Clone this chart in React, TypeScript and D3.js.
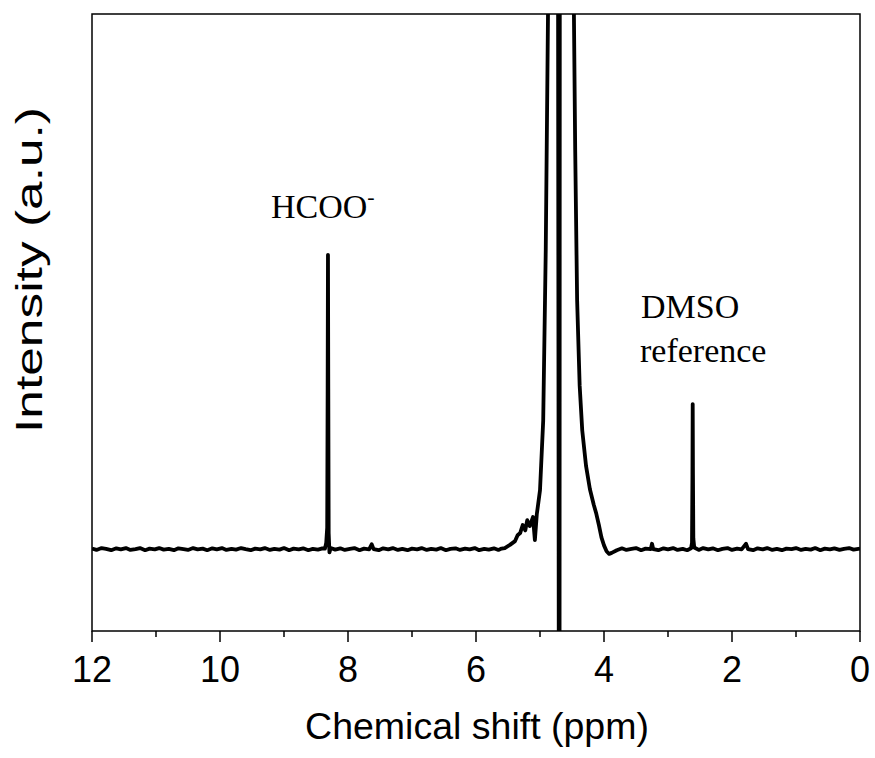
import * as d3 from 'd3'
import { useEffect, useRef } from 'react';

// tick values on the shift axis (ppm)
const majorTicks = [12, 10, 8, 6, 4, 2, 0];
const minorTicks = [11, 9, 7, 5, 3, 1];

// 1H NMR spectrum: [ppm, intensity]
const baselineLeft = [
  [12.0, 0.1], [11.93, -0.15], [11.85, 0.2], [11.78, 0.05], [11.7, -0.2], [11.62, 0.15],
  [11.55, -0.05], [11.47, 0.2], [11.4, -0.15], [11.32, 0.0], [11.25, 0.2], [11.17, -0.2],
  [11.1, 0.1], [11.02, -0.05], [10.95, 0.2], [10.88, -0.1], [10.8, 0.05], [10.72, -0.2],
  [10.65, 0.15], [10.57, 0.0], [10.5, -0.15], [10.42, 0.2], [10.35, -0.05], [10.27, 0.1],
  [10.2, -0.2], [10.12, 0.15], [10.05, -0.05], [9.97, 0.2], [9.9, -0.15], [9.82, 0.05],
  [9.75, -0.1], [9.67, 0.2], [9.6, 0.0], [9.52, -0.2], [9.45, 0.1], [9.37, -0.05],
  [9.3, 0.2], [9.22, -0.15], [9.15, 0.05], [9.07, -0.1], [9.0, 0.2], [8.92, -0.2],
  [8.85, 0.1], [8.77, -0.05], [8.7, 0.15], [8.62, -0.2], [8.55, 0.05], [8.47, -0.1],
  [8.4, 0.15], [8.36, 0.1],
];
const formatePeak = [
  [8.34, 1.2], [8.325, 4], [8.318, 30], [8.313, 55], [8.308, 30], [8.302, 3],
  [8.29, -0.6], [8.27, 0.2],
];
const baselineMid = [
  [8.2, -0.1], [8.12, 0.15], [8.05, -0.15], [7.97, 0.05], [7.9, 0.2], [7.82, -0.2],
  [7.75, 0.1], [7.67, -0.05], [7.63, 0.9], [7.6, 0.0], [7.52, -0.2], [7.45, 0.15],
  [7.37, -0.05], [7.3, 0.2], [7.22, -0.15], [7.15, 0.05], [7.07, -0.2], [7.0, 0.1],
  [6.92, -0.05], [6.85, 0.2], [6.77, -0.15], [6.7, 0.05], [6.62, -0.1], [6.55, 0.2],
  [6.47, -0.2], [6.4, 0.05], [6.32, 0.15], [6.25, -0.15], [6.17, 0.1], [6.1, -0.05],
  [6.02, 0.2], [5.95, -0.2], [5.87, 0.05], [5.8, -0.1], [5.72, 0.15], [5.65, -0.15],
  [5.6, 0.1],
];
const waterPeak = [
  [5.55, 0.2], [5.47, 0.8], [5.39, 1.5], [5.35, 2.6], [5.31, 3.0], [5.27, 4.5],
  [5.23, 3.5], [5.2, 5.4], [5.16, 4.3], [5.11, 6.0], [5.08, 1.7], [5.05, 6.5],
  [5.0, 11], [4.95, 24], [4.91, 56], [4.875, 100], [4.86, 130],
  [4.72, 130], [4.705, -40], [4.695, -40], [4.69, 130],
  [4.48, 130], [4.47, 100], [4.45, 74.6], [4.42, 46.5], [4.38, 30.5], [4.34, 22.2],
  [4.28, 15.5], [4.22, 11.2], [4.16, 8.3], [4.12, 6.6], [4.08, 4.5], [4.04, 2.2],
  [4.0, 0.7], [3.96, -0.4], [3.92, -0.9], [3.88, -0.7], [3.8, -0.2],
];
const baselineRight = [
  [3.72, 0.15], [3.65, -0.15], [3.57, 0.05], [3.5, 0.2], [3.42, -0.2], [3.35, 0.1],
  [3.27, 0.0], [3.25, 1.0], [3.23, 0.0], [3.15, -0.2], [3.07, 0.15], [3.0, -0.05],
  [2.92, 0.2], [2.85, -0.15], [2.77, 0.05], [2.7, -0.2], [2.64, 0.15],
];
const dmsoPeak = [
  [2.625, 1.2], [2.618, 14], [2.614, 27.1], [2.61, 14], [2.604, 2], [2.59, 0.3],
];
const baselineEnd = [
  [2.52, -0.15], [2.45, 0.2], [2.37, -0.05], [2.3, 0.15], [2.22, -0.2], [2.15, 0.05],
  [2.07, 0.2], [2.0, -0.15], [1.92, 0.1], [1.85, -0.05], [1.78, 1.0], [1.75, 0.0],
  [1.67, -0.2], [1.6, 0.15], [1.52, -0.05], [1.45, 0.2], [1.37, -0.15], [1.3, 0.05],
  [1.22, -0.2], [1.15, 0.1], [1.07, 0.0], [1.0, 0.2], [0.92, -0.15], [0.85, 0.05],
  [0.77, -0.1], [0.7, 0.2], [0.62, -0.2], [0.55, 0.1], [0.47, -0.05], [0.4, 0.15],
  [0.32, -0.15], [0.25, 0.05], [0.17, 0.2], [0.1, -0.1], [0.0, 0.1],
];

const spectrum = [
  ...baselineLeft, ...formatePeak, ...baselineMid, ...waterPeak,
  ...baselineRight, ...dmsoPeak, ...baselineEnd,
];

function drawChart(node) {
  const W = 875, H = 758;
  const L = 92, R = 860, T = 14, B = 631;
  const svg = d3.select(node).attr('width', W).attr('height', H);
  svg.selectAll('*').remove();

  const x = d3.scaleLinear().domain([12, 0]).range([L, R]);
  const y = d3.scaleLinear().domain([-15.3, 100]).range([B, T]);

  svg.append('clipPath').attr('id', 'plot-clip')
    .append('rect').attr('x', L).attr('y', T).attr('width', R - L).attr('height', B - T);

  const line = d3.line().x(d => x(d[0])).y(d => y(d[1]));
  svg.append('path').datum(spectrum)
    .attr('clip-path', 'url(#plot-clip)')
    .attr('fill', 'none').attr('stroke', '#000')
    .attr('stroke-width', 3.8).attr('stroke-linejoin', 'round')
    .attr('d', line);

  // frame
  svg.append('rect').attr('x', L).attr('y', T).attr('width', R - L).attr('height', B - T)
    .attr('fill', 'none').attr('stroke', '#000').attr('stroke-width', 1.5);

  // bottom ticks
  const g = svg.append('g').attr('transform', `translate(0,${B})`);
  g.selectAll('line.major').data(majorTicks).enter().append('line')
    .attr('x1', d => x(d)).attr('x2', d => x(d)).attr('y1', 0).attr('y2', 11)
    .attr('stroke', '#000').attr('stroke-width', 1.5);
  g.selectAll('line.minor').data(minorTicks).enter().append('line')
    .attr('x1', d => x(d)).attr('x2', d => x(d)).attr('y1', 0).attr('y2', 6)
    .attr('stroke', '#000').attr('stroke-width', 1.5);
  g.selectAll('text').data(majorTicks).enter().append('text')
    .attr('x', d => x(d)).attr('y', 51)
    .attr('text-anchor', 'middle')
    .style('font-family', 'Arial, "Liberation Sans", sans-serif').style('font-size', '36px')
    .text(d => d);

  svg.append('text').attr('x', 477).attr('y', 739)
    .attr('text-anchor', 'middle')
    .style('font-family', 'Arial, "Liberation Sans", sans-serif').style('font-size', '37.5px')
    .text('Chemical shift (ppm)');

  svg.append('text').attr('transform', 'translate(42,270) rotate(-90)')
    .attr('text-anchor', 'middle')
    .attr('textLength', 326).attr('lengthAdjust', 'spacingAndGlyphs')
    .style('font-family', 'Arial, "Liberation Sans", sans-serif').style('font-size', '37px')
    .text('Intensity (a.u.)');

  // peak labels
  const serif = '"Times New Roman", "Liberation Serif", serif';
  const hc = svg.append('text').attr('x', 271).attr('y', 218)
    .style('font-family', serif).style('font-size', '34px');
  hc.append('tspan').text('HCOO');
  hc.append('tspan').attr('dy', -14).style('font-size', '22px').text('-');

  svg.append('text').attr('x', 641).attr('y', 318)
    .style('font-family', serif).style('font-size', '34px').text('DMSO');
  svg.append('text').attr('x', 640).attr('y', 362)
    .style('font-family', serif).style('font-size', '34px').text('reference');
}

function App() {
  const ref = useRef(null);
  useEffect(() => {
    drawChart(ref.current);
  }, []);

  return (
    <svg ref={ref} style={{ position: 'absolute', left: 0, top: 0, background: '#fff' }} />
  );
}

export default App;
